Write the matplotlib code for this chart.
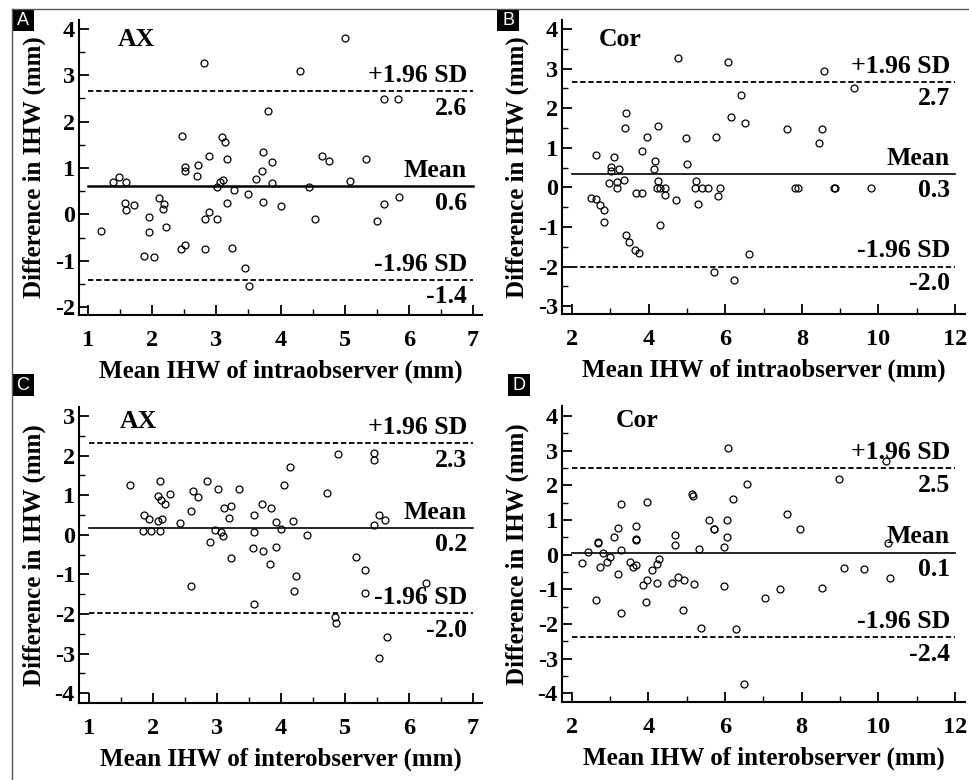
import numpy as np
import matplotlib
matplotlib.use('Agg')
import matplotlib.pyplot as plt
import matplotlib.transforms as mtransforms
from matplotlib.patches import Rectangle
from matplotlib.lines import Line2D
from matplotlib.ticker import MultipleLocator

plt.rcParams['font.family'] = 'Liberation Serif'
plt.rcParams['font.weight'] = 'bold'
plt.rcParams['axes.unicode_minus'] = False

W, H = 969, 780

# A: AX, intraobserver
a_x = [1.20, 1.39, 1.48, 1.59, 1.57, 1.60, 1.71, 2.10, 2.18, 2.17, 1.95, 2.22, 1.95, 1.87, 2.03,
       2.47, 2.51, 2.51, 2.72, 2.70, 2.88, 2.81, 2.45, 2.51, 2.82, 2.89, 2.82, 3.01, 3.01, 3.06,
       3.11, 3.09, 3.13, 3.17, 3.17, 3.27, 3.24, 3.44, 3.51, 3.50, 3.62, 3.71, 3.73, 3.80, 3.86,
       3.87, 3.73, 4.00, 4.30, 4.44, 4.53, 4.64, 4.75, 5.01, 5.09, 5.34, 5.50, 5.62, 5.62, 5.83, 5.84]
a_y = [-0.36, 0.70, 0.81, 0.70, 0.25, 0.09, 0.21, 0.35, 0.23, 0.11, -0.06, -0.28, -0.38, -0.90, -0.91,
       1.69, 1.03, 0.93, 1.06, 0.82, 1.25, 3.27, -0.74, -0.67, -0.10, 0.05, -0.74, -0.10, 0.58, 0.69,
       0.74, 1.66, 1.55, 1.19, 0.25, 0.52, -0.72, -1.15, -1.55, 0.44, 0.76, 0.94, 1.35, 2.23, 1.13,
       0.67, 0.26, 0.19, 3.10, 0.59, -0.10, 1.25, 1.16, 3.80, 0.72, 1.20, -0.14, 0.23, 2.48, 2.48, 0.38]
a_lines = [2.65, 0.61, -1.41]
a_labels = ['2.6', '0.6', '-1.4']

# B: Cor, intraobserver
b_x = [2.50, 2.63, 2.72, 2.83, 2.83, 2.63, 3.09, 3.01, 3.03, 3.22, 2.96, 3.17, 3.18, 3.37, 3.40,
       3.39, 3.41, 3.50, 3.65, 3.76, 3.67, 3.83, 3.82, 3.97, 4.16, 4.14, 4.24, 4.24, 4.22, 4.30,
       4.42, 4.42, 4.30, 4.72, 4.77, 4.97, 5.00, 5.24, 5.22, 5.39, 5.55, 5.29, 5.70, 5.77, 5.87,
       5.81, 6.07, 6.15, 6.23, 6.41, 6.52, 6.63, 7.61, 7.83, 7.90, 8.45, 8.53, 8.59, 8.83, 8.87,
       9.37, 9.80]
b_y = [-0.28, -0.29, -0.45, -0.56, -0.88, 0.81, 0.78, 0.52, 0.41, 0.47, 0.10, 0.14, -0.01, 0.18, 1.87,
       1.51, -1.20, -1.38, -1.58, -1.65, -0.13, -0.13, 0.93, 1.28, 0.67, 0.47, 1.54, 0.16, -0.01, -0.01,
       -0.01, -0.20, -0.94, -0.31, 3.28, 1.25, 0.58, 0.16, -0.01, -0.01, -0.01, -0.41, -2.14, 1.27, -0.01,
       -0.21, 3.18, 1.79, -2.34, 2.34, 1.63, -1.69, 1.48, -0.01, -0.01, 1.11, 1.48, 2.94, -0.01, -0.01,
       2.51, -0.01]
b_lines = [2.67, 0.34, -2.00]
b_labels = ['2.7', '0.3', '-2.0']

# C: AX, interobserver
c_x = [1.64, 1.87, 1.95, 1.85, 1.98, 2.11, 2.08, 2.14, 2.11, 2.08, 2.13, 2.20, 2.27, 2.42, 2.60,
       2.63, 2.71, 2.60, 2.85, 3.02, 2.98, 3.06, 3.10, 2.89, 3.12, 3.23, 3.19, 3.34, 3.22, 3.58,
       3.58, 3.56, 3.58, 3.71, 3.84, 3.72, 3.83, 3.92, 4.01, 3.93, 4.05, 4.15, 4.19, 4.23, 4.21,
       4.41, 4.72, 4.89, 4.84, 4.86, 5.18, 5.31, 5.31, 5.46, 5.45, 5.46, 5.54, 5.63, 5.65, 5.53, 6.27]
c_y = [1.26, 0.49, 0.40, 0.10, 0.10, 0.10, 0.34, 0.40, 1.37, 0.99, 0.88, 0.78, 1.02, 0.29, 0.59,
       1.10, 0.95, -1.30, 1.35, 1.15, 0.13, 0.08, -0.02, -0.18, 0.67, 0.73, 0.43, 1.16, -0.58, 0.51,
       0.06, -0.34, -1.76, 0.78, 0.69, -0.40, -0.75, 0.33, 0.15, -0.32, 1.26, 1.72, 0.35, -1.03, -1.43,
       -0.01, 1.05, 2.03, -2.07, -2.22, -0.56, -0.90, -1.48, 2.06, 1.89, 0.24, 0.51, 0.37, -2.59, -3.11, -1.21]
c_lines = [2.31, 0.18, -1.98]
c_labels = ['2.3', '0.2', '-2.0']

# D: Cor, interobserver
d_x = [2.28, 2.43, 2.63, 2.68, 2.69, 2.75, 2.83, 2.92, 2.99, 3.11, 3.20, 3.20, 3.30, 3.30, 3.30,
       3.52, 3.59, 3.69, 3.68, 3.67, 3.67, 3.86, 3.97, 3.96, 3.93, 4.10, 4.24, 4.27, 4.23, 4.61,
       4.70, 4.70, 4.77, 4.94, 4.91, 5.14, 5.16, 5.19, 5.31, 5.37, 5.59, 5.71, 5.71, 5.97, 5.98,
       6.05, 6.05, 6.07, 6.22, 6.30, 6.50, 6.58, 7.05, 7.43, 7.63, 7.96, 8.54, 8.97, 9.10, 9.62,
       10.20, 10.24, 10.31]
d_y = [-0.23, 0.07, -1.31, 0.36, 0.33, -0.35, 0.04, -0.21, -0.06, 0.51, 0.76, -0.56, 1.47, 0.13, -1.69,
       -0.20, -0.35, -0.30, 0.83, 0.42, 0.46, -0.86, -0.73, 1.52, -1.36, -0.45, -0.27, -0.13, -0.81, -0.81,
       0.56, 0.27, -0.63, -0.74, -1.61, 1.75, 1.69, -0.84, 0.16, -2.11, 1.01, 0.73, 0.74, -0.89, 0.23,
       1.01, 0.51, 3.09, 1.62, -2.13, -3.73, 2.03, -1.24, -1.00, 1.17, 0.73, -0.96, 2.19, -0.37, -0.41,
       2.71, 0.33, -0.66]
d_lines = [2.49, 0.06, -2.38]
d_labels = ['2.5', '0.1', '-2.4']

line_names = ['+1.96 SD', 'Mean', '-1.96 SD']

panels = [
    # letter, tag, x, y, lines, labels, xlim, ylim, xticks, yticks, xlabel, box (px: left, top, right, bottom), tag pos
    ('A', 'AX', a_x, a_y, a_lines, a_labels, (0.86, 7.14), (-2.17, 4.19), (1, 7, 1), (-2, 4, 1),
     'Mean IHW of intraobserver (mm)', (79, 20, 482, 315), (0.097, 0.935)),
    ('B', 'Cor', b_x, b_y, b_lines, b_labels, (1.74, 12.26), (-3.2, 4.23), (2, 12, 2), (-3, 4, 1),
     'Mean IHW of intraobserver (mm)', (562, 20, 965, 314), (0.092, 0.935)),
    ('C', 'AX', c_x, c_y, c_lines, c_labels, (0.85, 7.14), (-4.25, 3.23), (1, 7, 1), (-4, 3, 1),
     'Mean IHW of interobserver (mm)', (79, 407, 482, 703), (0.102, 0.95)),
    ('D', 'Cor', d_x, d_y, d_lines, d_labels, (1.75, 12.26), (-4.25, 4.29), (2, 12, 2), (-4, 4, 1),
     'Mean IHW of interobserver (mm)', (562, 406, 965, 702), (0.133, 0.95)),
]

fig = plt.figure(figsize=(W / 100, H / 100), dpi=100)

# thin outer frame (top and left)
fig.add_artist(Line2D([12 / W, 1], [1 - 9 / H, 1 - 9 / H], color='0.35', lw=1, transform=fig.transFigure))
fig.add_artist(Line2D([12 / W, 12 / W], [0, 1 - 9 / H], color='0.35', lw=1, transform=fig.transFigure))

letter_boxes = {'A': (12, 9), 'B': (497, 9), 'C': (12, 374), 'D': (508, 374)}

for letter, tag, xs, ys, lines, labels, xlim, ylim, xt, yt, xlabel, box, tagpos in panels:
    l, t, r, b = box
    ax = fig.add_axes([l / W, 1 - b / H, (r - l) / W, (b - t) / H])
    ax.plot(xs, ys, linestyle='none', marker='o', markersize=5, mfc='none', mec='black', mew=0.9)

    x0, x1 = xt[0], xt[1]
    ax.plot([x0, x1], [lines[0]] * 2, color='black', lw=1.3, ls=(0, (3, 1.5)))
    ax.plot([x0, x1], [lines[1]] * 2, color='black', lw=1.8 if letter == 'A' else 1.2)
    ax.plot([x0, x1], [lines[2]] * 2, color='black', lw=1.3, ls=(0, (3, 1.5)))

    trans = mtransforms.blended_transform_factory(ax.transAxes, ax.transData)
    for yv, name, val in zip(lines, line_names, labels):
        ax.annotate(name, xy=(0.963, yv), xycoords=trans, xytext=(0, 3), textcoords='offset points',
                    ha='right', va='bottom', fontsize=18.5, fontweight='bold')
        ax.annotate(val, xy=(0.963, yv), xycoords=trans, xytext=(0, -4), textcoords='offset points',
                    ha='right', va='top', fontsize=18.5, fontweight='bold')

    ax.text(tagpos[0], tagpos[1], tag, transform=ax.transAxes, ha='left', va='center',
            fontsize=18.5, fontweight='bold')

    ax.set_xlim(*xlim)
    ax.set_ylim(*ylim)
    ax.set_xticks(np.arange(xt[0], xt[1] + 0.01, xt[2]))
    ax.set_yticks(np.arange(yt[0], yt[1] + 0.01, yt[2]))
    ax.xaxis.set_minor_locator(MultipleLocator(xt[2] / 2))
    ax.yaxis.set_minor_locator(MultipleLocator(0.5))
    ax.tick_params(which='major', direction='in', length=7, width=1.3, labelsize=17.5)
    ax.tick_params(axis='x', which='major', pad=11)
    ax.tick_params(axis='y', which='major', pad=3)
    ax.tick_params(which='minor', direction='in', length=4, width=1.0)
    for lab in ax.get_xticklabels() + ax.get_yticklabels():
        lab.set_fontweight('bold')
    ax.spines['top'].set_visible(False)
    ax.spines['right'].set_visible(False)
    ax.spines['left'].set_linewidth(1.5)
    ax.spines['bottom'].set_linewidth(1.5)

    ax.set_xlabel(xlabel, fontsize=18, fontweight='bold')
    ax.set_ylabel('Difference in IHW (mm)', fontsize=18, fontweight='bold')
    ax.xaxis.set_label_coords(0.5, -0.15)
    ax.yaxis.set_label_coords(-0.082, 0.5)

    bx, by = letter_boxes[letter]
    fig.add_artist(Rectangle((bx / W, 1 - (by + 22) / H), 22 / W, 22 / H, facecolor='black',
                             edgecolor='none', transform=fig.transFigure))
    fig.text((bx + 11) / W, 1 - (by + 11.5) / H, letter, color='white', ha='center', va='center',
             fontsize=13, fontweight='normal', family='Liberation Sans')

fig.savefig('out.png', dpi=100)
